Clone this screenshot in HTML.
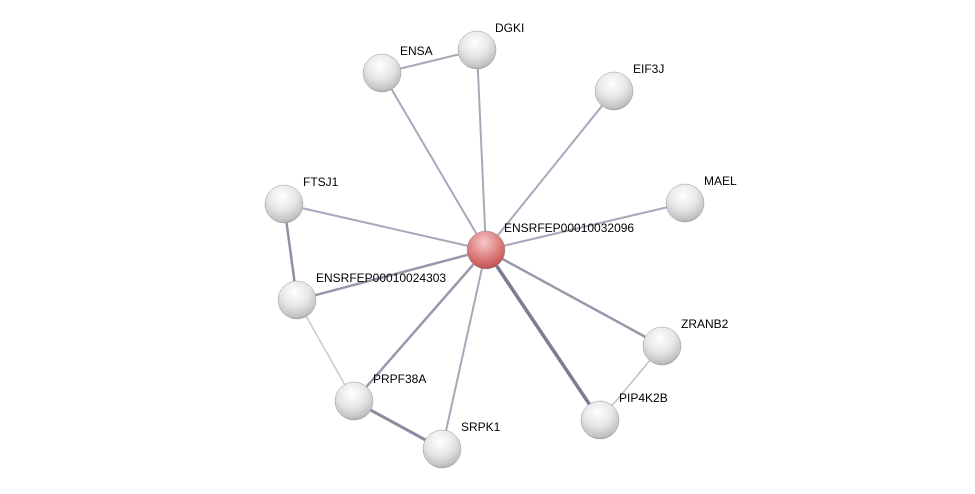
<!DOCTYPE html>
<html><head><meta charset="utf-8"><style>
html,body{margin:0;padding:0;background:#fff;}
svg{display:block;}
text{font-family:"Liberation Sans",sans-serif;font-size:12px;fill:#000;}
</style></head><body>
<svg width="975" height="494" viewBox="0 0 975 494" xmlns="http://www.w3.org/2000/svg">
<defs>
<radialGradient id="g" cx="0.45" cy="0.3" r="0.75">
<stop offset="0" stop-color="#ffffff"/>
<stop offset="0.5" stop-color="#e6e6e6"/>
<stop offset="0.85" stop-color="#c2c2c2"/>
<stop offset="1" stop-color="#9a9a9a"/>
</radialGradient>
<radialGradient id="r" cx="0.45" cy="0.3" r="0.75">
<stop offset="0" stop-color="#f6caca"/>
<stop offset="0.5" stop-color="#e08585"/>
<stop offset="0.85" stop-color="#c85a5a"/>
<stop offset="1" stop-color="#9a3a3a"/>
</radialGradient>
</defs>
<g stroke="#a8a8bc" stroke-width="2" fill="none">
<line x1="486" y1="250" x2="477" y2="50"/>
<line x1="486" y1="250" x2="382" y2="73"/>
<line x1="486" y1="250" x2="614" y2="91"/>
<line x1="486" y1="250" x2="685" y2="203"/>
<line x1="486" y1="250" x2="284" y2="204"/>
<line x1="486" y1="250" x2="297" y2="300" stroke="#9898ac" stroke-width="2.5"/>
<line x1="486" y1="250" x2="662" y2="346" stroke="#9898ac" stroke-width="2.5"/>
<line x1="486" y1="250" x2="600" y2="420" stroke="#7c7c92" stroke-width="3.5"/>
<line x1="486" y1="250" x2="354" y2="401" stroke="#9898ac" stroke-width="2.5"/>
<line x1="486" y1="250" x2="442" y2="449"/>
<line x1="382" y1="73" x2="477" y2="50"/>
<line x1="284" y1="204" x2="297" y2="300" stroke="#9090a4" stroke-width="2.5"/>
<line x1="297" y1="300" x2="354" y2="401" stroke="#c8c8d4" stroke-width="1.5"/>
<line x1="354" y1="401" x2="442" y2="449" stroke="#8a8aa0" stroke-width="3"/>
<line x1="662" y1="346" x2="600" y2="420" stroke="#c0c0cc" stroke-width="1.5"/>
</g>
<g stroke="#999" stroke-width="0.5">
<circle cx="477" cy="50" r="19" fill="url(#g)"/>
<circle cx="382" cy="73" r="19" fill="url(#g)"/>
<circle cx="614" cy="91" r="19" fill="url(#g)"/>
<circle cx="685" cy="203" r="19" fill="url(#g)"/>
<circle cx="284" cy="204" r="19" fill="url(#g)"/>
<circle cx="297" cy="300" r="19" fill="url(#g)"/>
<circle cx="662" cy="346" r="19" fill="url(#g)"/>
<circle cx="600" cy="420" r="19" fill="url(#g)"/>
<circle cx="354" cy="401" r="19" fill="url(#g)"/>
<circle cx="442" cy="449" r="19" fill="url(#g)"/>
<circle cx="486" cy="250" r="19" fill="url(#r)"/>
</g>
<text x="495" y="32">DGKI</text>
<text x="400" y="55">ENSA</text>
<text x="633" y="73">EIF3J</text>
<text x="704" y="185">MAEL</text>
<text x="303" y="186">FTSJ1</text>
<text x="504" y="232">ENSRFEP00010032096</text>
<text x="316" y="282">ENSRFEP00010024303</text>
<text x="681" y="328">ZRANB2</text>
<text x="619" y="402">PIP4K2B</text>
<text x="373" y="383">PRPF38A</text>
<text x="461" y="431">SRPK1</text>
</svg>
</body></html>
